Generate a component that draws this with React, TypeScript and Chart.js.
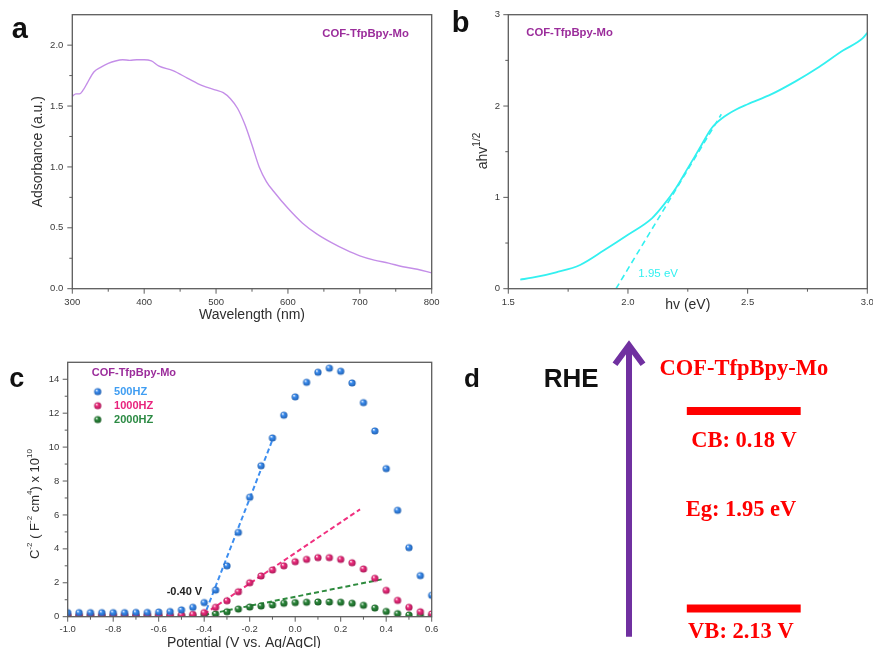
import React, { useEffect, useRef } from "react";
import { Chart, registerables } from "chart.js";
Chart.register(...registerables);

const SANS = "'Liberation Sans', Arial, sans-serif";
const SERIF = "'Liberation Serif', 'Times New Roman', serif";
const TICK_COLOR = "#3a3a3a";
const TITLE_COLOR = "#2e2e2e";
const PURPLE_LABEL = "#9b2d9b";
const SAMPLE = "COF-TfpBpy-Mo";

// ---------- Panel a: UV-vis absorbance ----------
const wavelengthNm = [300, 305, 310, 315, 320, 330, 340, 350, 360, 370, 380, 390, 400, 410, 420, 440, 460, 480, 500, 510, 520, 530, 540, 550, 560, 570, 580, 600, 620, 640, 660, 680, 700, 720, 740, 760, 780, 800];
const absorbance = [1.58, 1.6, 1.6, 1.63, 1.68, 1.78, 1.82, 1.85, 1.87, 1.88, 1.875, 1.88, 1.88, 1.87, 1.83, 1.79, 1.73, 1.67, 1.63, 1.61, 1.56, 1.48, 1.35, 1.18, 1.0, 0.88, 0.8, 0.66, 0.54, 0.45, 0.38, 0.32, 0.27, 0.235, 0.21, 0.18, 0.16, 0.13];

// ---------- Panel b: Tauc plot ----------
const photonEnergy = [1.55, 1.6, 1.7, 1.8, 1.9, 2.0, 2.1, 2.15, 2.2, 2.25, 2.3, 2.35, 2.4, 2.45, 2.5, 2.6, 2.7, 2.8, 2.9, 2.96, 2.98, 3.0];
const taucValue = [0.1, 0.12, 0.18, 0.26, 0.42, 0.59, 0.77, 0.92, 1.1, 1.32, 1.54, 1.76, 1.88, 1.96, 2.02, 2.13, 2.27, 2.43, 2.61, 2.7, 2.74, 2.8];
const taucFitEnergy = [1.95, 2.39];
const taucFitValue = [0.0, 1.91];
const bandGapText = "1.95 eV";

// ---------- Panel c: Mott-Schottky ----------
const potential = [-1.0, -0.95, -0.9, -0.85, -0.8, -0.75, -0.7, -0.65, -0.6, -0.55, -0.5, -0.45, -0.4, -0.35, -0.3, -0.25, -0.2, -0.15, -0.1, -0.05, 0.0, 0.05, 0.1, 0.15, 0.2, 0.25, 0.3, 0.35, 0.4, 0.45, 0.5, 0.55, 0.6];
const ms500 = [0.24, 0.24, 0.24, 0.24, 0.24, 0.24, 0.25, 0.25, 0.27, 0.3, 0.4, 0.55, 0.83, 1.57, 3.0, 4.97, 7.04, 8.9, 10.54, 11.88, 12.96, 13.82, 14.41, 14.65, 14.47, 13.78, 12.62, 10.95, 8.73, 6.27, 4.07, 2.42, 1.26];
const ms1000 = [0.1, 0.1, 0.1, 0.1, 0.1, 0.1, 0.1, 0.1, 0.1, 0.1, 0.1, 0.14, 0.24, 0.55, 0.94, 1.47, 2.0, 2.4, 2.75, 3.0, 3.24, 3.38, 3.48, 3.48, 3.38, 3.18, 2.81, 2.26, 1.55, 0.96, 0.55, 0.29, 0.16];
const ms2000 = [0.05, 0.05, 0.05, 0.05, 0.05, 0.05, 0.05, 0.05, 0.05, 0.05, 0.05, 0.06, 0.1, 0.16, 0.29, 0.45, 0.57, 0.63, 0.69, 0.79, 0.83, 0.85, 0.87, 0.87, 0.85, 0.79, 0.67, 0.51, 0.31, 0.18, 0.1, 0.07, 0.05];
const fit500Potential = [-0.39, -0.095];
const fit500Value = [0.4, 10.6];
const fit1000Potential = [-0.4, 0.285];
const fit1000Value = [0.15, 6.33];
const fit2000Potential = [-0.4, 0.38];
const fit2000Value = [0.1, 2.2];
const seriesLabels = ["500HZ", "1000HZ", "2000HZ"];
const seriesColors = ["#3d8ef0", "#f0307f", "#2e8b3e"];
const seriesTextColors = ["#3f9df2", "#e8237d", "#2b8a43"];
const seriesDark = ["#1f5fb0", "#a81656", "#175a22"];
const flatBandText = "-0.40 V";

// ---------- Panel d: band diagram ----------
const levelNames = ["CB: 0.18 V", "VB: 2.13 V"];
const levelPotentials = [0.18, 2.13];
const gapText = "Eg: 1.95 eV";
const rheAxisRange = [2.41, -0.47];

function sphere(color: string, dark: string, r: number) {
  const c = document.createElement("canvas");
  const s = Math.ceil(r * 2) + 2;
  c.width = s;
  c.height = s;
  const g = c.getContext("2d")!;
  const cx = s / 2, cy = s / 2;
  const grad = g.createRadialGradient(cx - r * 0.35, cy - r * 0.4, r * 0.05, cx, cy, r);
  grad.addColorStop(0, "#ffffff");
  grad.addColorStop(0.35, color);
  grad.addColorStop(1, dark);
  g.fillStyle = grad;
  g.beginPath();
  g.arc(cx, cy, r, 0, Math.PI * 2);
  g.fill();
  return c;
}

type Part = { t: string; size: number; dy?: number };
type Note = {
  text?: string; parts?: Part[]; x: number; y: number; px?: boolean;
  size?: number; weight?: string; family?: string; color: string;
  align?: CanvasTextAlign; baseline?: CanvasTextBaseline; rotate?: number;
};

function notesPlugin(notes: Note[]) {
  return {
    id: "notes",
    afterDraw(chart: any) {
      const { ctx, scales } = chart;
      for (const n of notes) {
        const x = n.px ? n.x : scales.x.getPixelForValue(n.x);
        const y = n.px ? n.y : scales.y.getPixelForValue(n.y);
        ctx.save();
        ctx.translate(x, y);
        if (n.rotate) ctx.rotate(n.rotate);
        ctx.fillStyle = n.color;
        ctx.textBaseline = n.baseline ?? "middle";
        const fam = n.family ?? SANS;
        const w = n.weight ?? "normal";
        if (n.parts) {
          let total = 0;
          for (const p of n.parts) {
            ctx.font = `${w} ${p.size}px ${fam}`;
            total += ctx.measureText(p.t).width;
          }
          let cx = n.align === "left" ? 0 : -total / 2;
          ctx.textAlign = "left";
          for (const p of n.parts) {
            ctx.font = `${w} ${p.size}px ${fam}`;
            ctx.fillText(p.t, cx, p.dy ?? 0);
            cx += ctx.measureText(p.t).width;
          }
        } else {
          ctx.font = `${w} ${n.size}px ${fam}`;
          ctx.textAlign = n.align ?? "center";
          ctx.fillText(n.text, 0, 0);
        }
        ctx.restore();
      }
    },
  };
}

const framePlugin = {
  id: "frame",
  afterDatasetsDraw(chart: any) {
    const { ctx, chartArea: a, scales } = chart;
    ctx.save();
    ctx.strokeStyle = "#5c5c5c";
    ctx.lineWidth = 1.3;
    ctx.strokeRect(a.left, a.top, a.right - a.left, a.bottom - a.top);
    ctx.lineWidth = 1;
    const drawTicks = (scale: any, horiz: boolean) => {
      const vals: number[] = scale.ticks.map((t: any) => t.value);
      const list: [number, number][] = [];
      vals.forEach((v, i) => {
        list.push([v, 5]);
        if (i < vals.length - 1) list.push([(v + vals[i + 1]) / 2, 3]);
      });
      for (const [v, len] of list) {
        const p = scale.getPixelForValue(v);
        ctx.beginPath();
        if (horiz) {
          ctx.moveTo(p, a.bottom);
          ctx.lineTo(p, a.bottom + len);
        } else {
          ctx.moveTo(a.left, p);
          ctx.lineTo(a.left - len, p);
        }
        ctx.stroke();
      }
    };
    drawTicks(scales.x, true);
    drawTicks(scales.y, false);
    ctx.restore();
  },
};

function fmt(decimals: number) {
  return (v: any) => {
    const n = Math.abs(Number(v)) < 1e-9 ? 0 : Number(v);
    return n.toFixed(decimals);
  };
}

function linAxis(min: number, max: number, step: number, decimals: number, pad: number, fitSize: number, horizontal: boolean, title?: any) {
  return {
    type: "linear",
    min,
    max,
    ticks: {
      stepSize: step,
      includeBounds: false,
      autoSkip: false,
      maxRotation: 0,
      padding: pad,
      color: TICK_COLOR,
      font: { family: SANS, size: 9.5 },
      callback: fmt(decimals),
    },
    grid: { display: false, drawTicks: false },
    border: { display: false },
    title: title ?? { display: false },
    afterFit: (s: any) => {
      if (horizontal) s.height = fitSize;
      else s.width = fitSize;
      s.paddingLeft = 0;
      s.paddingRight = 0;
      s.paddingTop = 0;
      s.paddingBottom = 0;
    },
  };
}

function configA(): any {
  return {
    type: "line",
    data: {
      datasets: [
        {
          data: wavelengthNm.map((w, i) => ({ x: w, y: absorbance[i] })),
          borderColor: "#c48ee8",
          borderWidth: 1.4,
          pointRadius: 0,
          tension: 0.3,
          cubicInterpolationMode: "monotone",
        },
      ],
    },
    options: {
      animation: false,
      responsive: false,
      layout: { padding: { top: 14.7, right: 8.3, left: 0, bottom: 0 } },
      plugins: { legend: { display: false }, tooltip: { enabled: false } },
      scales: {
        x: linAxis(300, 800, 100, 0, 8, 41.3, true, {
          display: true, text: "Wavelength (nm)", color: TITLE_COLOR,
          font: { family: SANS, size: 14 }, padding: { top: 0, bottom: 6.6 },
        }),
        y: linAxis(0, 2.25, 0.5, 1, 9, 72.3, false, {
          display: true, text: "Adsorbance (a.u.)", color: TITLE_COLOR,
          font: { family: SANS, size: 14 }, padding: { top: 29.3, bottom: 0 },
        }),
      },
    },
    plugins: [
      framePlugin,
      notesPlugin([
        { text: "a", x: 11.7, y: 38.3, px: true, size: 29, weight: "bold", color: "#111", align: "left", baseline: "alphabetic" },
        { text: SAMPLE, x: 708, y: 2.093, size: 11.3, weight: "bold", color: PURPLE_LABEL },
      ]),
    ],
  };
}

function configB(): any {
  return {
    type: "line",
    data: {
      datasets: [
        {
          data: photonEnergy.map((e, i) => ({ x: e, y: taucValue[i] })),
          borderColor: "#33f0f0",
          borderWidth: 1.8,
          pointRadius: 0,
          cubicInterpolationMode: "monotone",
        },
        {
          data: taucFitEnergy.map((e, i) => ({ x: e, y: taucFitValue[i] })),
          borderColor: "#33f0f0",
          borderWidth: 1.6,
          borderDash: [6, 4],
          pointRadius: 0,
        },
      ],
    },
    options: {
      animation: false,
      responsive: false,
      layout: { padding: { top: 14.7, right: 5.7, left: 0, bottom: 0 } },
      plugins: { legend: { display: false }, tooltip: { enabled: false } },
      scales: {
        x: linAxis(1.5, 3.0, 0.5, 1, 8, 41.3, true, {
          display: true, text: "hv (eV)", color: TITLE_COLOR,
          font: { family: SANS, size: 14 }, padding: { top: 0, bottom: 16.6 },
        }),
        y: linAxis(0, 3, 1, 0, 8.3, 68.3, false),
      },
    },
    plugins: [
      framePlugin,
      notesPlugin([
        { text: "b", x: 11.7, y: 32.3, px: true, size: 29, weight: "bold", color: "#111", align: "left", baseline: "alphabetic" },
        { text: SAMPLE, x: 1.756, y: 2.8, size: 11.3, weight: "bold", color: PURPLE_LABEL },
        { text: bandGapText, x: 2.126, y: 0.16, size: 11.5, color: "#33f0f0" },
        {
          parts: [{ t: "ahv", size: 14 }, { t: "1/2", size: 10, dy: -6 }],
          x: 43.3, y: 151, px: true, rotate: -Math.PI / 2, color: TITLE_COLOR,
        },
      ]),
    ],
  };
}

function configC(): any {
  const sets = [ms500, ms1000, ms2000];
  const imgs = seriesColors.map((c, i) => sphere(c, seriesDark[i], 3.6));
  const fits = [
    [fit500Potential, fit500Value],
    [fit1000Potential, fit1000Value],
    [fit2000Potential, fit2000Value],
  ];
  const legendPlugin = {
    id: "msLegend",
    afterDraw(chart: any) {
      const { ctx, scales } = chart;
      const legendY = [13.27, 12.44, 11.62];
      ctx.save();
      seriesLabels.forEach((lab, i) => {
        const px = scales.x.getPixelForValue(-0.868);
        const py = scales.y.getPixelForValue(legendY[i]);
        ctx.drawImage(imgs[i], px - imgs[i].width / 2, py - imgs[i].height / 2);
        ctx.font = `bold 11px ${SANS}`;
        ctx.fillStyle = seriesTextColors[i];
        ctx.textAlign = "left";
        ctx.textBaseline = "middle";
        ctx.fillText(lab, scales.x.getPixelForValue(-0.796), py);
      });
      ctx.restore();
    },
  };
  return {
    type: "line",
    data: {
      datasets: [
        ...sets.map((arr, i) => ({
          label: seriesLabels[i],
          data: potential.map((p, j) => ({ x: p, y: arr[j] })),
          showLine: false,
          pointStyle: imgs[i],
          borderColor: seriesColors[i],
          backgroundColor: seriesColors[i],
        })),
        ...fits.map(([xs, ys], i) => ({
          data: xs.map((p, j) => ({ x: p, y: ys[j] })),
          borderColor: seriesColors[i],
          borderWidth: 2,
          borderDash: [5, 3],
          pointRadius: 0,
        })),
      ],
    },
    options: {
      animation: false,
      responsive: false,
      layout: { padding: { top: 32.3, right: 8.3, left: 0, bottom: 0 } },
      plugins: { legend: { display: false }, tooltip: { enabled: false } },
      scales: {
        x: linAxis(-1.0, 0.6, 0.2, 1, 7, 31.3, true),
        y: linAxis(0, 15, 2, 0, 8.4, 67.7, false),
      },
    },
    plugins: [
      framePlugin,
      legendPlugin,
      notesPlugin([
        { text: "c", x: 9.3, y: 57.3, px: true, size: 27, weight: "bold", color: "#111", align: "left", baseline: "alphabetic" },
        { text: SAMPLE, x: -0.709, y: 14.37, size: 11, weight: "bold", color: PURPLE_LABEL },
        { text: flatBandText, x: -0.487, y: 1.46, size: 11, weight: "bold", color: "#222" },
        { text: "Potential (V vs. Ag/AgCl)", x: 244, y: 313, px: true, size: 14, color: TITLE_COLOR },
        {
          parts: [
            { t: "C", size: 13 }, { t: "-2", size: 8, dy: -5 }, { t: " ( F", size: 13 },
            { t: "-2", size: 8, dy: -5 }, { t: " cm", size: 13 }, { t: "4", size: 8, dy: -5 },
            { t: ") x 10", size: 13 }, { t: "10", size: 8, dy: -5 },
          ],
          x: 35, y: 174, px: true, rotate: -Math.PI / 2, color: TITLE_COLOR,
        },
      ]),
    ],
  };
}

function configD(): any {
  const arrowHead = {
    id: "arrowHead",
    afterDatasetsDraw(chart: any) {
      const { ctx, scales } = chart;
      const tx = scales.x.getPixelForValue(4.365);
      const ty = scales.y.getPixelForValue(rheAxisRange[1]);
      ctx.save();
      ctx.strokeStyle = "#7030a0";
      ctx.lineWidth = 6;
      ctx.lineJoin = "miter";
      ctx.lineCap = "butt";
      ctx.beginPath();
      ctx.moveTo(tx - 14, ty + 19);
      ctx.lineTo(tx, ty);
      ctx.lineTo(tx + 14, ty + 19);
      ctx.stroke();
      ctx.restore();
    },
  };
  return {
    type: "line",
    data: {
      datasets: [
        {
          data: rheAxisRange.map((v) => ({ x: 4.365, y: v })),
          borderColor: "#7030a0",
          borderWidth: 6,
          borderCapStyle: "butt",
          pointRadius: 0,
        },
        ...levelPotentials.map((v) => ({
          data: [{ x: 5.7, y: v }, { x: 8.33, y: v }],
          borderColor: "#ff0000",
          borderWidth: 8,
          borderCapStyle: "butt",
          pointRadius: 0,
        })),
      ],
    },
    options: {
      animation: false,
      responsive: false,
      layout: { padding: 0 },
      plugins: { legend: { display: false }, tooltip: { enabled: false } },
      scales: {
        x: { type: "linear", min: 0, max: 10, display: false },
        y: { type: "linear", min: -0.62, max: 2.52, reverse: true, display: false },
      },
    },
    plugins: [
      arrowHead,
      notesPlugin([
        { text: "d", x: 0.74, y: -0.054, size: 26, weight: "bold", color: "#111", baseline: "alphabetic" },
        { text: "RHE", x: 3.03, y: -0.054, size: 26, weight: "bold", color: "#111", baseline: "alphabetic" },
        { text: SAMPLE, x: 7.02, y: -0.176, size: 22.5, weight: "bold", family: SERIF, color: "#ff0000", baseline: "alphabetic" },
        { text: levelNames[0], x: 7.02, y: levelPotentials[0] + 0.353, size: 22.5, weight: "bold", family: SERIF, color: "#ff0000", baseline: "alphabetic" },
        { text: gapText, x: 6.95, y: (levelPotentials[0] + levelPotentials[1]) / 2, size: 22.5, weight: "bold", family: SERIF, color: "#ff0000" },
        { text: levelNames[1], x: 6.95, y: levelPotentials[1] + 0.296, size: 22.5, weight: "bold", family: SERIF, color: "#ff0000", baseline: "alphabetic" },
      ]),
    ],
  };
}

function Panel({ left, top, width, height, make }: { left: number; top: number; width: number; height: number; make: () => any }) {
  const ref = useRef<HTMLCanvasElement>(null);
  useEffect(() => {
    const chart = new Chart(ref.current!, make());
    return () => chart.destroy();
  }, []);
  return (
    <div style={{ position: "absolute", left, top, width, height }}>
      <canvas ref={ref} width={width} height={height} style={{ display: "block", width, height }} />
    </div>
  );
}

export default function App() {
  return (
    <div style={{ position: "fixed", left: 0, top: 0, width: 873, height: 648, background: "#fff", overflow: "hidden" }}>
      <Panel left={0} top={0} width={440} height={330} make={configA} />
      <Panel left={440} top={0} width={433} height={330} make={configB} />
      <Panel left={0} top={330} width={440} height={318} make={configC} />
      <Panel left={440} top={330} width={433} height={318} make={configD} />
    </div>
  );
}
